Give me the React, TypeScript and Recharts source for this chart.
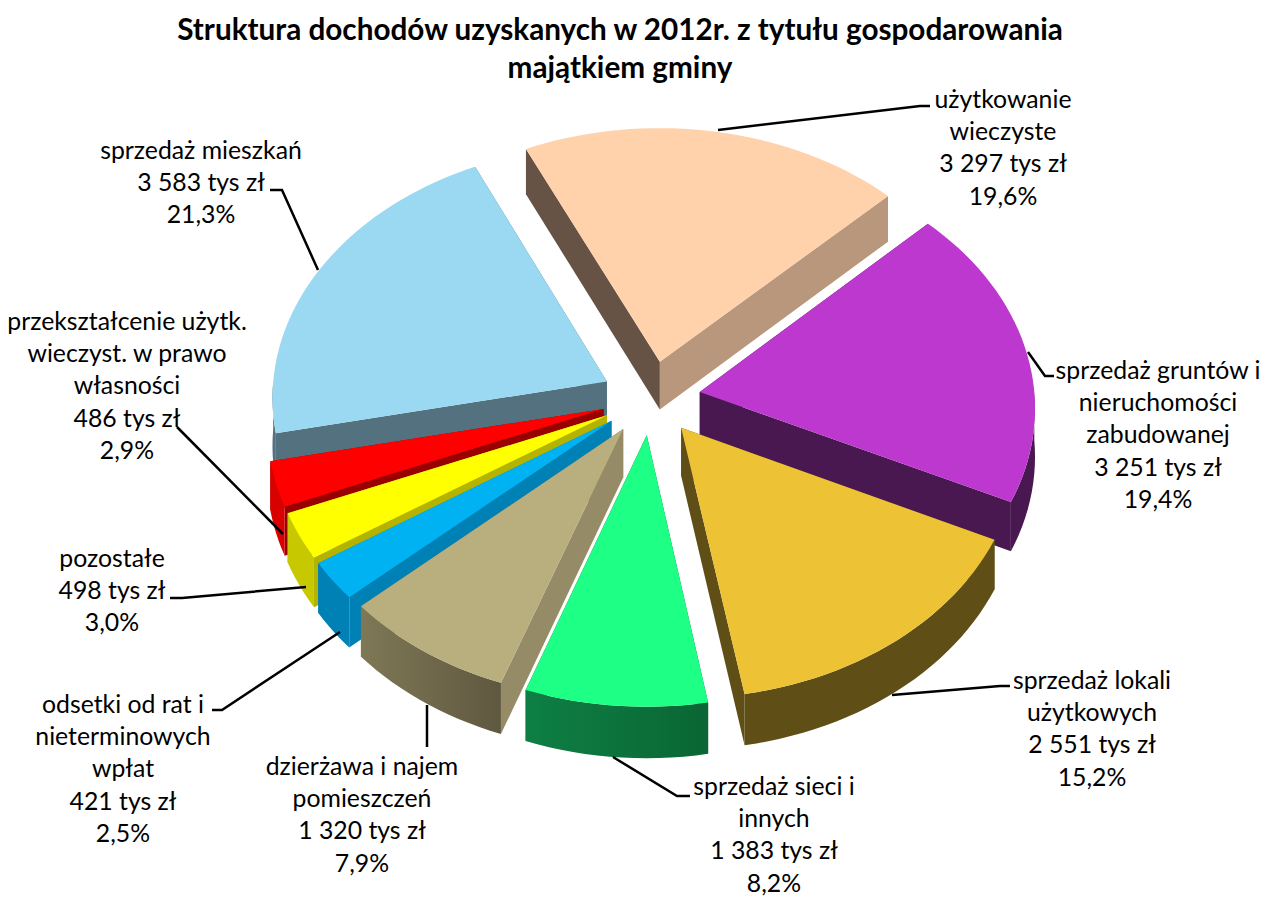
import { PieChart, Pie } from 'recharts';

// slices, listed counter-clockwise so that front slices are painted last
const categories = [
  ['sprzedaż gruntów i', 'nieruchomości', 'zabudowanej'],
  ['użytkowanie', 'wieczyste'],
  ['sprzedaż mieszkań'],
  ['przekształcenie użytk.', 'wieczyst. w prawo', 'własności'],
  ['pozostałe'],
  ['odsetki od rat i', 'nieterminowych', 'wpłat'],
  ['dzierżawa i najem', 'pomieszczeń'],
  ['sprzedaż sieci i', 'innych'],
  ['sprzedaż lokali', 'użytkowych'],
];
const values = [3251, 3297, 3583, 486, 498, 421, 1320, 1383, 2551];
const titleLines = [
  'Struktura dochodów uzyskanych w 2012r. z tytułu gospodarowania',
  'majątkiem gminy',
];

const topColors = ['#BC38CE', '#FFD2AC', '#9BD9F2', '#FF0000', '#FFFF00', '#00B2F2', '#B8AE7E', '#1EFF85', '#EDC335'];
const startFaceColors = ['#4A1850', '#B8977D', '#53717F', '#990000', '#B3B300', '#0081B5', '#7A7352', '#0A6634', '#5F4F16'];
const endFaceColors = ['#4A1850', '#675345', '#53717F', '#990000', '#B3B300', '#0081B5', '#958B66', '#0A6634', '#5F4F16'];
const wallFrom = ['#4A1850', '#B8977D', '#53717F', '#D90000', '#C8C800', '#0081B5', '#7F7856', '#0E7F44', '#5F4F16'];
const wallTo = ['#4A1850', '#B8977D', '#53717F', '#D90000', '#C8C800', '#0081B5', '#5F5840', '#0A6634', '#5F4F16'];

// label centre x, first line centre y
const labelAnchors = [
  [1158, 369], [1003, 98], [201, 149], [127, 320], [112, 557], [123, 703], [362, 765], [774, 785], [1092, 679],
];
// leader lines, label end last
const leaders = [
  [[1028, 352], [1045, 376], [1054, 376]],
  [[718, 130], [920, 106], [930, 106]],
  [[318, 270], [282, 190], [270, 190]],
  [[283, 534], [177, 427]],
  [[306, 587], [182, 598], [170, 598]],
  [[340, 632], [222, 710], [212, 710]],
  [[427, 705], [427, 747]],
  [[613, 757], [677, 796], [690, 796]],
  [[892, 695], [1000, 686], [1010, 686]],
];

const WIDTH = 1263;
const HEIGHT = 897;
const FONT = 'Lato, "Open Sans", sans-serif';
const LINE_H = 32.4;
const TILT = 0.75;
const PERSPECTIVE = 0.058;
const EXPLODE = 49.5;
const DEPTH = 48;
const RAD = Math.PI / 180;

type Pt = [number, number];

function Wedge3D(props: any) {
  const { cx, cy, startAngle, endAngle, outerRadius: R, midAngle, fill, index } = props;
  const ox = EXPLODE * Math.cos(midAngle * RAD);
  const oy = EXPLODE * Math.sin(midAngle * RAD);

  // plane position -> screen, the front of the pie is closer to the viewer
  const project = (px: number, py: number, drop = 0): Pt => {
    const s = 1 / (1 + (PERSPECTIVE * py) / R);
    return [cx + px * s, cy - py * TILT * s + drop * s];
  };
  const rim = (a: number, drop = 0) =>
    project(ox + R * Math.cos(a * RAD), oy + R * Math.sin(a * RAD), drop);
  const apex = (drop = 0) => project(ox, oy, drop);

  const arc = (a1: number, a2: number, drop = 0) => {
    const n = Math.max(2, Math.ceil(Math.abs(a2 - a1) / 2));
    const pts: Pt[] = [];
    for (let i = 0; i <= n; i++) pts.push(rim(a1 + ((a2 - a1) * i) / n, drop));
    return pts;
  };
  const toPath = (pts: Pt[]) =>
    'M' + pts.map((p) => `${p[0].toFixed(2)},${p[1].toFixed(2)}`).join('L') + 'Z';

  // outer wall is only visible on the front half
  const walls: Pt[][] = [];
  for (let k = -1; k <= 2; k++) {
    const a = Math.max(startAngle, 180 + 360 * (k - 1));
    const b = Math.min(endAngle, 360 + 360 * (k - 1));
    if (b > a) walls.push([...arc(a, b), ...arc(b, a, DEPTH)]);
  }

  const gradId = `wall-${index}`;
  return (
    <g>
      <defs>
        <linearGradient id={gradId} x1="0" y1="0" x2="1" y2="0">
          <stop offset="0%" stopColor={wallFrom[index]} />
          <stop offset="100%" stopColor={wallTo[index]} />
        </linearGradient>
      </defs>
      <path d={toPath([apex(), rim(startAngle), rim(startAngle, DEPTH), apex(DEPTH)])} fill={startFaceColors[index]} />
      <path d={toPath([apex(), rim(endAngle), rim(endAngle, DEPTH), apex(DEPTH)])} fill={endFaceColors[index]} />
      {walls.map((w, i) => (
        <path key={i} d={toPath(w)} fill={`url(#${gradId})`} />
      ))}
      <path d={toPath([apex(), ...arc(startAngle, endAngle)])} fill={fill} />
    </g>
  );
}

const renderLabel = (props: any) => {
  const { index, percent, value } = props;
  const [x, y] = labelAnchors[index];
  const lines = [
    ...categories[index],
    `${String(value).replace(/\B(?=(\d{3})+$)/g, ' ')} tys zł`,
    `${(percent * 100).toFixed(1).replace('.', ',')}%`,
  ];
  return (
    <text key={index} textAnchor="middle" fontFamily={FONT} fontSize={24.8} fill="#000">
      {lines.map((line, i) => (
        <tspan key={i} x={x} y={y + i * LINE_H} dominantBaseline="central">
          {line}
        </tspan>
      ))}
    </text>
  );
};

const renderLeader = (props: any) => (
  <polyline
    key={props.index}
    points={leaders[props.index].map((p) => p.join(',')).join(' ')}
    fill="none"
    stroke="#000"
    strokeWidth={2.5}
  />
);

export default function App() {
  const data = values.map((value, i) => ({
    name: categories[i].join(' '),
    value,
    fill: topColors[i],
  }));

  return (
    <div style={{ position: 'absolute', left: 0, top: 0, width: WIDTH, height: HEIGHT, background: '#fff' }}>
      <PieChart width={WIDTH} height={HEIGHT} margin={{ top: 0, right: 0, bottom: 0, left: 0 }}>
        <text textAnchor="middle" fontFamily={FONT} fontWeight={700} fontSize={29.7} fill="#000">
          {titleLines.map((line, i) => (
            <tspan key={i} x={620} y={28 + i * 38} dominantBaseline="central">
              {line}
            </tspan>
          ))}
        </text>
        <Pie
          data={data}
          dataKey="value"
          cx={651}
          cy={398}
          innerRadius={0}
          outerRadius={335}
          startAngle={-25.4}
          endAngle={334.6}
          paddingAngle={0}
          stroke="none"
          shape={Wedge3D}
          label={renderLabel}
          labelLine={renderLeader}
          isAnimationActive={false}
        />
      </PieChart>
    </div>
  );
}
